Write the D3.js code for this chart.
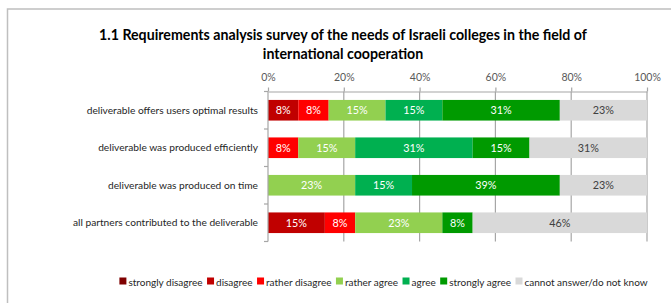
<!DOCTYPE html>
<html>
<head>
<meta charset="utf-8">
<script src="https://cdn.jsdelivr.net/npm/d3@7"></script>
<style>
  html, body { margin: 0; padding: 0; background: #fff; }
  svg { display: block; }
  text { font-family: Lato, "Open Sans", sans-serif; }
</style>
</head>
<body>
<svg id="chart" width="671" height="303"></svg>
<script>
const titleLines = ["1.1 Requirements analysis survey of the needs of Israeli colleges in the field of", "international cooperation"];
const categories = [
  "deliverable offers users optimal results",
  "deliverable was produced efficiently",
  "deliverable was produced on time",
  "all partners contributed to the deliverable"
];
const seriesNames = ["strongly disagree", "disagree", "rather disagree", "rather agree", "agree", "strongly agree", "cannot answer/do not know"];
const stronglyDisagree = [0, 0, 0, 0];
const disagree         = [8, 0, 0, 15];
const ratherDisagree   = [8, 8, 0, 8];
const ratherAgree      = [15, 15, 23, 23];
const agree            = [15, 31, 15, 0];
const stronglyAgree    = [31, 15, 39, 8];
const cannotAnswer     = [23, 31, 23, 46];
const tickValues = [0, 20, 40, 60, 80, 100];
const seriesColors = ["#7f0000", "#c00000", "#ff0000", "#92d050", "#00b050", "#009a00", "#d9d9d9"];

const seriesValues = [stronglyDisagree, disagree, ratherDisagree, ratherAgree, agree, stronglyAgree, cannotAnswer];

const svg = d3.select("#chart");
const W = 671, H = 303;

// chart area border
svg.append("rect").attr("x", 7.5).attr("y", 9).attr("width", W + 20).attr("height", H + 20)
  .attr("fill", "#fff").attr("stroke", "#bfbfbf").attr("stroke-width", 1.5);

// title
svg.append("g").selectAll("text").data(titleLines).join("text")
  .attr("x", 343).attr("y", (d, i) => 39.5 + i * 19.5)
  .attr("text-anchor", "middle")
  .attr("font-size", 14.2).attr("font-weight", "bold").attr("fill", "#000")
  .text(d => d);

const x = d3.scaleLinear().domain([0, 100]).range([268, 647]);
const y = d3.scaleBand().domain(categories).range([91.5, 241.5]).paddingInner(0.45).paddingOuter(0.225);

// gridlines
svg.append("g").selectAll("line").data(tickValues.slice(1)).join("line")
  .attr("x1", d => x(d)).attr("x2", d => x(d))
  .attr("y1", 91.5).attr("y2", 241.5)
  .attr("stroke", "#a6a6a6").attr("stroke-width", 1.2);

// top axis
const axT = svg.append("g").attr("transform", "translate(0,91.5)")
  .call(d3.axisTop(x).tickValues(tickValues).tickFormat(d => d + "%").tickSize(4).tickSizeOuter(0));
axT.select(".domain").attr("stroke", "#a6a6a6").attr("stroke-width", 1.2);
axT.selectAll(".tick line").attr("stroke", "#a6a6a6").attr("stroke-width", 1.2);
axT.selectAll(".tick text").attr("font-size", 10.5).attr("fill", "#595959")
  .attr("font-family", "Lato, sans-serif").attr("dy", "-4");

// stacked data
const rows = categories.map((c, i) => {
  const r = { cat: c };
  seriesNames.forEach((s, j) => r[s] = seriesValues[j][i]);
  return r;
});
const stacked = d3.stack().keys(seriesNames)(rows);

const bars = svg.append("g");
stacked.forEach((layer, j) => {
  const g = bars.append("g");
  g.selectAll("rect").data(layer.filter(d => d[1] - d[0] > 0)).join("rect")
    .attr("x", d => x(d[0])).attr("width", d => x(d[1]) - x(d[0]))
    .attr("y", d => y(d.data.cat)).attr("height", y.bandwidth())
    .attr("fill", seriesColors[j]);
  g.selectAll("text").data(layer.filter(d => d[1] - d[0] > 0)).join("text")
    .attr("x", d => (x(d[0]) + x(d[1])) / 2)
    .attr("y", d => y(d.data.cat) + y.bandwidth() / 2)
    .attr("dy", "0.36em")
    .attr("text-anchor", "middle")
    .attr("font-size", 10.8)
    .attr("fill", j === 6 ? "#404040" : "#fff")
    .text(d => (d[1] - d[0]) + "%");
});

// left axis (ticks at category boundaries)
const axL = svg.append("g");
axL.append("line").attr("x1", 268).attr("x2", 268).attr("y1", 91.5).attr("y2", 241.5)
  .attr("stroke", "#a6a6a6").attr("stroke-width", 1.2);
axL.selectAll("line.t").data(d3.range(categories.length + 1)).join("line").attr("class", "t")
  .attr("x1", 264).attr("x2", 268)
  .attr("y1", i => 91.5 + i * y.step()).attr("y2", i => 91.5 + i * y.step())
  .attr("stroke", "#a6a6a6").attr("stroke-width", 1.2);
axL.selectAll("text").data(categories).join("text")
  .attr("x", 258).attr("y", d => y(d) + y.bandwidth() / 2).attr("dy", "0.36em")
  .attr("text-anchor", "end").attr("font-size", 10.2).attr("fill", "#262626")
  .text(d => d);

// legend
const leg = svg.append("g");
const items = leg.selectAll("g").data(seriesNames).join("g");
items.append("rect").attr("width", 7).attr("height", 7).attr("y", -5.5)
  .attr("fill", (d, i) => seriesColors[i]);
items.append("text").attr("x", 9).attr("y", 0).attr("dy", "0.3em")
  .attr("font-size", 10).attr("fill", "#262626").text(d => d);
let cx = 0;
items.each(function () {
  const g = d3.select(this);
  g.attr("transform", `translate(${cx},283)`);
  cx += 9 + g.select("text").node().getComputedTextLength() + 4.5;
});
const total = cx - 4.5;
leg.attr("transform", `translate(${383.5 - total / 2},0)`);
</script>
</body>
</html>
